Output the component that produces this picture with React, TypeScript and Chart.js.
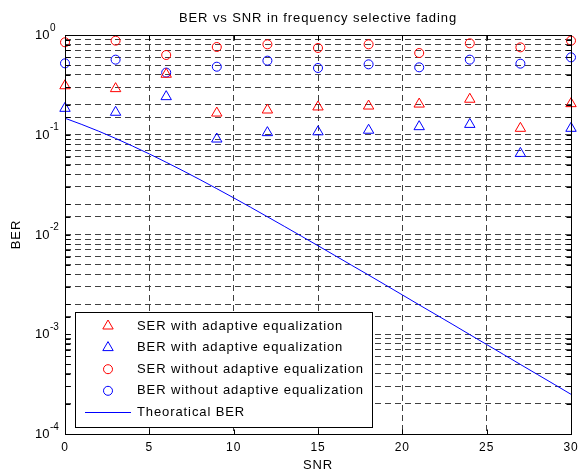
import React, { useEffect, useRef } from 'react';
import { Chart, registerables } from 'chart.js';

Chart.register(...registerables);

// ---- data ----
const snrValues = [0, 3, 6, 9, 12, 15, 18, 21, 24, 27, 30];
const serWithEq = [0.31, 0.29, 0.404, 0.165, 0.177, 0.19, 0.194, 0.203, 0.227, 0.116, 0.205];
const berWithEq = [0.184, 0.168, 0.241, 0.0906, 0.105, 0.107, 0.111, 0.1205, 0.127, 0.065, 0.116];
const serWithoutEq = [0.845, 0.877, 0.63, 0.758, 0.806, 0.741, 0.806, 0.66, 0.825, 0.752, 0.877];
const berWithoutEq = [0.52, 0.566, 0.42, 0.481, 0.553, 0.467, 0.508, 0.474, 0.566, 0.516, 0.597];
const theorySnr = [0, 1, 2, 3, 4, 5, 6, 7, 8, 9, 10, 11, 12, 13, 14, 15, 16, 17, 18, 19, 20, 21, 22, 23, 24, 25, 26, 27, 28, 29, 30];
const theoryBer = [
  0.1464, 0.1267, 0.1085, 0.0919, 0.0771, 0.0642, 0.053, 0.0435, 0.0355, 0.0288,
  0.0233, 0.01876, 0.01506, 0.01208, 0.00966, 0.00772, 0.00616, 0.00491, 0.00392, 0.00312,
  0.00248, 0.00197, 0.00157, 0.00125, 0.000992, 0.000789, 0.000627, 0.000498, 0.000396, 0.000315,
  0.00025,
];

const seriesLabels = [
  'SER with adaptive equalization',
  'BER with adaptive equalization',
  'SER without adaptive equalization',
  'BER without adaptive equalization',
  'Theoratical BER',
];
const chartTitle = 'BER vs SNR in frequency selective fading';
const xTitle = 'SNR';
const yTitle = 'BER';
const xMin = 0;
const xMax = 30;
const xStep = 5;
const yMin = 1e-4;
const yMax = 1;

const FONT = '"Liberation Sans", Arial, Helvetica, sans-serif';
const RED = '#ff0000';
const BLUE = '#0000ff';
const SPACING = '0.9px';

const pts = (xs: number[], ys: number[]) => xs.map((x, i) => ({ x, y: ys[i] }));

const matlabPlugin = {
  id: 'matlabLook',
  beforeDraw(chart: any) {
    const { ctx, width, height } = chart;
    ctx.save();
    ctx.fillStyle = '#ffffff';
    ctx.fillRect(0, 0, width, height);
    ctx.restore();
    ctx.letterSpacing = SPACING;
  },
  afterDraw(chart: any) {
    const { ctx, chartArea: ca } = chart;
    const xs = chart.scales.x;
    const ys = chart.scales.y;
    const L = Math.round(ca.left) + 0.5;
    const R = Math.round(ca.right) + 0.5;
    const T = Math.round(ca.top) + 0.5;
    const B = Math.round(ca.bottom) + 0.5;
    ctx.save();
    ctx.strokeStyle = '#000';
    ctx.lineWidth = 1;
    ctx.setLineDash([]);

    // inward ticks
    const tl = 5;
    ctx.beginPath();
    xs.ticks.forEach((t: any) => {
      const px = Math.round(xs.getPixelForValue(t.value)) + 0.5;
      ctx.moveTo(px, B); ctx.lineTo(px, B - tl);
      ctx.moveTo(px, T); ctx.lineTo(px, T + tl);
    });
    ys.ticks.forEach((t: any) => {
      const py = Math.round(ys.getPixelForValue(t.value)) + 0.5;
      ctx.moveTo(L, py); ctx.lineTo(L + tl, py);
      ctx.moveTo(R, py); ctx.lineTo(R - tl, py);
    });
    ctx.stroke();

    // box
    ctx.strokeRect(L, T, R - L, B - T);

    // y decade labels: 10^k
    ctx.fillStyle = '#000';
    ctx.letterSpacing = '0px';
    ys.ticks.forEach((t: any) => {
      const e = Math.log10(t.value);
      if (Math.abs(e - Math.round(e)) > 1e-9) return;
      const py = ys.getPixelForValue(t.value);
      const x0 = ca.left - 30;
      ctx.font = `13px ${FONT}`;
      ctx.textAlign = 'left';
      ctx.textBaseline = 'middle';
      ctx.fillText('10', x0, py + 0.5);
      const w = ctx.measureText('10').width;
      ctx.font = `10px ${FONT}`;
      ctx.textBaseline = 'alphabetic';
      ctx.fillText(String(Math.round(e)), x0 + w + 0.5, py - 4.5);
    });

    // legend box
    ctx.letterSpacing = SPACING;
    const lx = ca.left + 10;
    const ly = ca.bottom - 122;
    const lw = 297;
    const lh = 115;
    ctx.fillStyle = '#fff';
    ctx.fillRect(lx + 0.5, ly + 0.5, lw, lh);
    ctx.strokeStyle = '#000';
    ctx.strokeRect(Math.round(lx) + 0.5, Math.round(ly) + 0.5, lw, lh);
    const rowH = 21.6;
    chart.data.datasets.forEach((ds: any, i: number) => {
      const cy = ly + 14 + i * rowH;
      const mx = lx + 33;
      ctx.strokeStyle = ds.borderColor;
      ctx.lineWidth = 1;
      ctx.beginPath();
      if (ds.showLine === false) {
        if (ds.pointStyle === 'triangle') {
          const r = ds.pointRadius;
          ctx.moveTo(mx, cy - r);
          ctx.lineTo(mx + r * 0.866, cy + r * 0.5);
          ctx.lineTo(mx - r * 0.866, cy + r * 0.5);
          ctx.closePath();
        } else {
          ctx.arc(mx, cy, ds.pointRadius, 0, Math.PI * 2);
        }
      } else {
        ctx.moveTo(lx + 10, Math.round(cy) + 0.5);
        ctx.lineTo(lx + 56, Math.round(cy) + 0.5);
      }
      ctx.stroke();
      ctx.fillStyle = '#000';
      ctx.font = `13px ${FONT}`;
      ctx.textAlign = 'left';
      ctx.textBaseline = 'middle';
      ctx.fillText(ds.label, lx + 62, cy);
    });
    ctx.restore();
  },
};

export default function App() {
  const ref = useRef<HTMLCanvasElement | null>(null);
  useEffect(() => {
    if (!ref.current) return;
    const markerDs = (label: string, ys: number[], color: string, style: string, r: number) => ({
      label,
      data: pts(snrValues, ys),
      showLine: false,
      pointStyle: style,
      pointRadius: r,
      pointHoverRadius: r,
      borderColor: color,
      pointBorderColor: color,
      backgroundColor: 'rgba(0,0,0,0)',
      pointBackgroundColor: 'rgba(0,0,0,0)',
      pointBorderWidth: 1,
      borderWidth: 1,
      clip: false,
    });
    const gridOpts = { color: '#404040', lineWidth: 1, drawTicks: false };
    const chart = new Chart(ref.current, {
      type: 'line',
      data: {
        datasets: [
          markerDs(seriesLabels[0], serWithEq, RED, 'triangle', 6),
          markerDs(seriesLabels[1], berWithEq, BLUE, 'triangle', 6),
          markerDs(seriesLabels[2], serWithoutEq, RED, 'circle', 4.5),
          markerDs(seriesLabels[3], berWithoutEq, BLUE, 'circle', 4.5),
          {
            label: seriesLabels[4],
            data: pts(theorySnr, theoryBer),
            showLine: true,
            borderColor: BLUE,
            borderWidth: 1,
            pointRadius: 0,
            fill: false,
            tension: 0,
          } as any,
        ],
      },
      options: {
        responsive: false,
        animation: false,
        events: [],
        layout: { padding: { left: 0, right: 65, top: 0, bottom: 0 } },
        plugins: {
          legend: { display: false },
          tooltip: { enabled: false },
          title: {
            display: true,
            fullSize: false,
            text: chartTitle,
            color: '#000',
            font: { family: FONT, size: 13, weight: 'normal', lineHeight: 1.2 },
            padding: { top: 11, bottom: 8.4 },
          },
        },
        scales: {
          x: {
            type: 'linear',
            min: xMin,
            max: xMax,
            ticks: { stepSize: xStep, color: '#000', font: { family: FONT, size: 12 }, padding: 6, maxRotation: 0 },
            grid: gridOpts,
            border: { display: false, dash: [6, 4] },
            title: {
              display: true,
              text: xTitle,
              color: '#000',
              font: { family: FONT, size: 13, lineHeight: 1 },
              padding: { top: 0, bottom: 0 },
            },
            afterFit: (s: any) => { s.height = 38; },
          },
          y: {
            type: 'logarithmic',
            min: yMin,
            max: yMax,
            ticks: { display: false },
            grid: gridOpts,
            border: { display: false, dash: [6, 4] },
            title: {
              display: true,
              text: yTitle,
              color: '#000',
              font: { family: FONT, size: 13, lineHeight: 1.2 },
              padding: { top: 9, bottom: 0 },
            },
            afterFit: (s: any) => { s.width = 65; },
          },
        },
      } as any,
      plugins: [matlabPlugin],
    });
    return () => chart.destroy();
  }, []);
  return (
    <div style={{ position: 'absolute', left: 0, top: 0, width: 578, height: 472, overflow: 'hidden', background: '#fff' }}>
      <canvas ref={ref} width={636} height={472} style={{ display: 'block', width: 636, height: 472 }} />
    </div>
  );
}
